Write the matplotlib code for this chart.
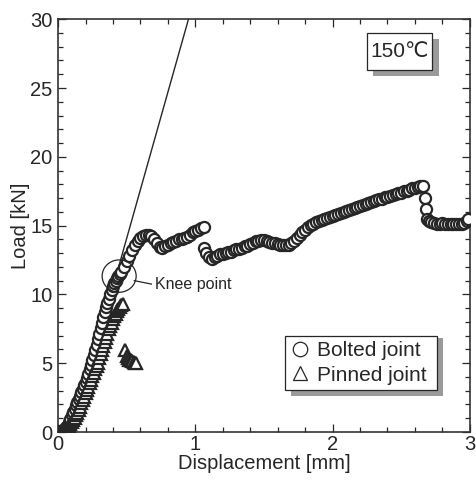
import matplotlib
matplotlib.use("Agg")
import matplotlib.pyplot as plt
from matplotlib.patches import Ellipse, Rectangle
from matplotlib.ticker import MultipleLocator

plt.rcParams['font.family'] = ['Liberation Sans', 'DejaVu Sans']

# Bolted joint data (displacement mm, load kN)
bolted_x = [0.00, 0.01, 0.02, 0.03, 0.04, 0.05, 0.06, 0.07, 0.08, 0.09,
            0.10, 0.11, 0.12, 0.13, 0.14, 0.15, 0.16, 0.17, 0.18, 0.19,
            0.20, 0.21, 0.22, 0.23, 0.24, 0.25, 0.26, 0.27, 0.28, 0.29,
            0.30, 0.31, 0.32, 0.33, 0.34, 0.35, 0.36, 0.37, 0.38, 0.39,
            0.40, 0.41, 0.42, 0.43, 0.44, 0.45,
            0.46, 0.48, 0.50, 0.52, 0.54, 0.56, 0.58, 0.60, 0.62, 0.64,
            0.66, 0.68, 0.70, 0.72, 0.74, 0.76, 0.78, 0.80, 0.82, 0.84,
            0.86, 0.88, 0.90, 0.92, 0.94, 0.96, 0.98, 1.00, 1.02, 1.04, 1.06,
            1.065, 1.08, 1.10, 1.12, 1.14, 1.16, 1.18, 1.20, 1.22, 1.24,
            1.26, 1.28, 1.30, 1.32, 1.34, 1.36, 1.38, 1.40, 1.42, 1.44,
            1.46, 1.48, 1.50, 1.52, 1.54, 1.56, 1.58, 1.60, 1.62, 1.64,
            1.66, 1.68, 1.70, 1.72, 1.74, 1.76, 1.78, 1.80, 1.82, 1.84,
            1.86, 1.88, 1.90, 1.92, 1.94, 1.96, 1.98, 2.00, 2.02, 2.04,
            2.06, 2.08, 2.10, 2.12, 2.14, 2.16, 2.18, 2.20, 2.22, 2.24,
            2.26, 2.28, 2.30, 2.32, 2.34, 2.36, 2.38, 2.40, 2.42, 2.44,
            2.46, 2.48, 2.50, 2.52, 2.54, 2.56, 2.58, 2.60, 2.62, 2.64, 2.66,
            2.67, 2.68, 2.69, 2.70, 2.72, 2.74, 2.76, 2.78, 2.80, 2.82,
            2.84, 2.86, 2.88, 2.90, 2.92, 2.94, 2.96, 2.98, 2.99]
bolted_y = [0.00, 0.02, 0.05, 0.10, 0.15, 0.25, 0.35, 0.50, 0.70, 0.95,
            1.20, 1.45, 1.70, 1.95, 2.20, 2.40, 2.65, 2.90, 3.15, 3.40,
            3.65, 3.95, 4.25, 4.55, 4.90, 5.25, 5.60, 5.95, 6.35, 6.75,
            7.15, 7.55, 7.95, 8.35, 8.70, 9.05, 9.40, 9.70, 10.00, 10.30,
            10.60, 10.80, 11.00, 11.20, 11.35, 11.50,
            11.65, 12.00, 12.40, 12.80, 13.20, 13.60, 13.90, 14.10, 14.25, 14.35,
            14.35, 14.25, 14.00, 13.70, 13.45, 13.40, 13.50, 13.60, 13.70, 13.80,
            13.90, 14.00, 14.05, 14.10, 14.20, 14.35, 14.50, 14.60, 14.70, 14.80, 14.90,
            13.40, 13.00, 12.70, 12.60, 12.70, 12.80, 12.90, 12.95, 13.00, 13.05,
            13.10, 13.20, 13.30, 13.30, 13.40, 13.50, 13.55, 13.65, 13.75, 13.85,
            13.90, 13.95, 13.95, 13.90, 13.80, 13.75, 13.70, 13.65, 13.60, 13.60,
            13.60, 13.60, 13.70, 13.90, 14.10, 14.30, 14.50, 14.70, 14.90, 15.05,
            15.15, 15.25, 15.30, 15.40, 15.50, 15.55, 15.60, 15.70, 15.75, 15.85,
            15.90, 16.00, 16.05, 16.15, 16.20, 16.30, 16.35, 16.45, 16.50, 16.55,
            16.65, 16.70, 16.80, 16.85, 16.90, 16.95, 17.05, 17.10, 17.15, 17.25,
            17.30, 17.35, 17.40, 17.50, 17.55, 17.60, 17.70, 17.75, 17.80, 17.85, 17.90,
            17.00, 16.20, 15.50, 15.35, 15.25, 15.20, 15.15, 15.15, 15.20, 15.15,
            15.10, 15.10, 15.15, 15.15, 15.10, 15.15, 15.20, 15.30, 15.45]

# Pinned joint data
pinned_x = [0.00, 0.01, 0.02, 0.03, 0.04, 0.05, 0.06, 0.07, 0.08, 0.09,
            0.10, 0.11, 0.12, 0.13, 0.14, 0.15, 0.16, 0.17, 0.18, 0.19,
            0.20, 0.21, 0.22, 0.23, 0.24, 0.25, 0.26, 0.27, 0.28, 0.29,
            0.30, 0.31, 0.32, 0.33, 0.34, 0.35, 0.36, 0.37, 0.38, 0.39,
            0.40, 0.41, 0.42, 0.43, 0.44, 0.45, 0.46, 0.47,
            0.485, 0.50, 0.51, 0.52, 0.53, 0.54, 0.55, 0.56, 0.57]
pinned_y = [0.00, 0.02, 0.04, 0.08, 0.12, 0.18, 0.25, 0.33, 0.42, 0.55,
            0.70, 0.85, 1.00, 1.20, 1.40, 1.62, 1.85, 2.08, 2.30, 2.55,
            2.80, 3.05, 3.30, 3.55, 3.80, 4.05, 4.30, 4.55, 4.80, 5.05,
            5.35, 5.65, 5.95, 6.25, 6.55, 6.85, 7.15, 7.45, 7.70, 7.95,
            8.20, 8.40, 8.60, 8.80, 8.95, 9.10, 9.20, 9.30,
            5.95, 5.50, 5.35, 5.25, 5.20, 5.15, 5.10, 5.05, 5.00]

# Initial stiffness line
stiff_x = [0.43, 0.967]
stiff_y = [11.6, 30.6]

# Knee point
knee_x, knee_y = 0.445, 11.33

x_ticks = [0, 1, 2, 3]
y_ticks = [0, 5, 10, 15, 20, 25, 30]

fig = plt.figure(figsize=(4.76, 4.80), dpi=100)
ax = fig.add_axes([0.122, 0.100, 0.865, 0.860])

ink = '#262626'
ax.plot(stiff_x, stiff_y, color=ink, lw=1.0, zorder=2)
ax.plot(bolted_x, bolted_y, linestyle='none', marker='o', ms=8.0, mfc='white',
        mec=ink, mew=1.6, label='Bolted joint', zorder=3)
ax.plot(pinned_x, pinned_y, linestyle='none', marker='^', ms=8.0, mfc='white',
        mec=ink, mew=1.6, label='Pinned joint', zorder=4)

ax.add_patch(Ellipse((knee_x, knee_y), 0.248, 2.35, fill=False, ec=ink, lw=0.9, zorder=5))
ax.plot([0.555, 0.68], [11.0, 10.75], color=ink, lw=0.9, zorder=5)
ax.text(0.705, 10.7, 'Knee point', fontsize=11.5, va='center', ha='left', color=ink)

ax.set_xlim(0, 3)
ax.set_ylim(0, 30)
ax.set_xticks(x_ticks)
ax.set_yticks(y_ticks)
ax.xaxis.set_minor_locator(MultipleLocator(0.2))
ax.yaxis.set_minor_locator(MultipleLocator(1))
ax.tick_params(which='both', direction='in', top=True, right=True, colors=ink,
               labelsize=14.5, width=0.9)
ax.tick_params(which='major', length=6)
ax.tick_params(axis='x', which='major', pad=2)
ax.tick_params(axis='y', which='major', pad=4)
ax.tick_params(which='minor', length=3.5)
for s in ax.spines.values():
    s.set_linewidth(1.2)
    s.set_color('#333333')

ax.set_xlabel('Displacement [mm]', fontsize=14.5, color=ink, labelpad=0.5)
ax.set_ylabel('Load [kN]', fontsize=14.5, color=ink, labelpad=0)

# Temperature label box with shadow
ax.add_patch(Rectangle((0.766, 0.862), 0.158, 0.090, transform=ax.transAxes,
                       fc='#9a9a9a', ec='none', zorder=6))
ax.add_patch(Rectangle((0.750, 0.877), 0.158, 0.090, transform=ax.transAxes,
                       fc='white', ec=ink, lw=0.9, zorder=7))
ax.text(0.829, 0.922, '150\u2103', transform=ax.transAxes, fontsize=15,
        ha='center', va='center', color=ink, zorder=8)

# Legend with shadow
ax.add_patch(Rectangle((0.566, 0.087), 0.369, 0.140, transform=ax.transAxes,
                       fc='#9a9a9a', ec='none', zorder=6))
leg = ax.legend(loc='lower left', bbox_to_anchor=(0.551, 0.102, 0.369, 0.140),
                mode='expand', frameon=True, fancybox=False, fontsize=15,
                handlelength=0.9, handletextpad=0.4, borderpad=0.25,
                labelspacing=0.25, borderaxespad=0, markerscale=1.3)
leg.get_frame().set_edgecolor(ink)
leg.get_frame().set_linewidth(0.9)
leg.get_frame().set_alpha(1)
leg.set_zorder(7)
for line in leg.get_lines():
    line.set_markeredgewidth(0.9)
for t in leg.get_texts():
    t.set_color(ink)

fig.savefig('out.png', dpi=100)
